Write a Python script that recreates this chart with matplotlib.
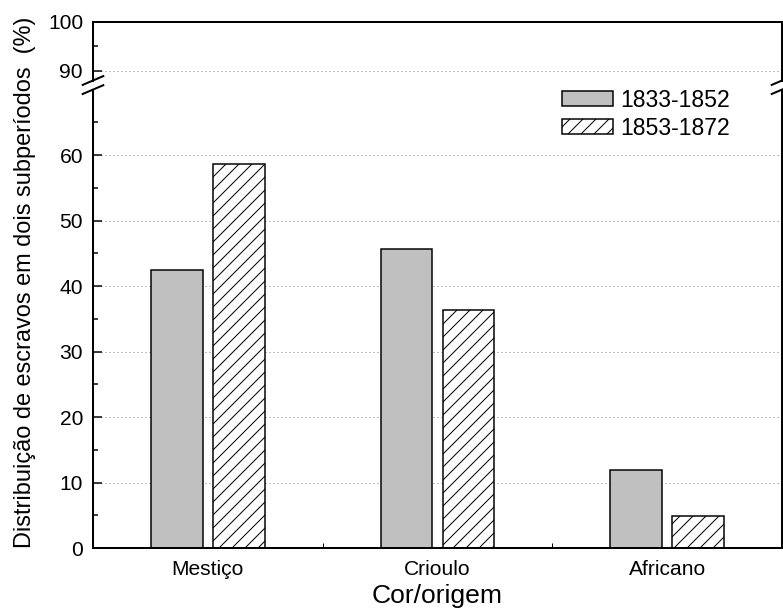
import matplotlib
matplotlib.use('Agg')
import matplotlib.pyplot as plt
from matplotlib.lines import Line2D
from matplotlib.ticker import FixedLocator

# data
categories = ['Mestiço', 'Crioulo', 'Africano']
period_1 = [42.4, 45.6, 11.9]   # 1833-1852
period_2 = [58.6, 36.4, 4.9]    # 1853-1872
labels = ['1833-1852', '1853-1872']

W, H = 783, 614
DPI = 78
PT = 72 / DPI            # px -> pt

plt.rcParams['font.family'] = ['Liberation Sans', 'DejaVu Sans']
plt.rcParams['hatch.linewidth'] = 1.0 * PT
plt.rcParams['axes.linewidth'] = 2.0 * PT

fig = plt.figure(figsize=(W / DPI, H / DPI), dpi=DPI)
fig.patch.set_facecolor('white')

x_left, x_right = 93, 782
lo_top, lo_bot = 89.6, 548
hi_top, hi_bot = 22, 80.5
ax_lo = fig.add_axes([x_left / W, 1 - lo_bot / H, (x_right - x_left) / W, (lo_bot - lo_top) / H])
ax_hi = fig.add_axes([x_left / W, 1 - hi_bot / H, (x_right - x_left) / W, (hi_bot - hi_top) / H])

x = list(range(1, len(categories) + 1))
width = 0.225
off = 0.135

for ax in (ax_lo, ax_hi):
    ax.bar([i - off for i in x], period_1, width, color='#c0c0c0', edgecolor='black',
           linewidth=1.5 * PT, label=labels[0])
    ax.bar([i + off for i in x], period_2, width, color='white', edgecolor='black',
           linewidth=1.5 * PT, hatch='//', label=labels[1])
    ax.set_xlim(0.5, 3.5)
    ax.set_axisbelow(True)
    ax.grid(axis='y', which='major', linestyle=(0, (1, 3)), color='#808080', linewidth=1.0 * PT)
    ax.tick_params(axis='y', which='major', direction='in', length=9 * PT, width=1.5 * PT,
                   labelsize=21 * PT, pad=10 * PT, right=False)
    ax.tick_params(axis='y', which='minor', direction='in', length=5 * PT, width=1.5 * PT, right=False)

# lower part
ax_lo.set_ylim(0, 70)
ax_lo.yaxis.set_major_locator(FixedLocator([0, 10, 20, 30, 40, 50, 60]))
ax_lo.yaxis.set_minor_locator(FixedLocator([5, 15, 25, 35, 45, 55, 65]))
ax_lo.spines['top'].set_visible(False)
ax_lo.set_xticks([1.5, 2.5])
ax_lo.set_xticklabels(['', ''])
ax_lo.tick_params(axis='x', which='major', direction='in', length=5 * PT, width=1.0 * PT, top=False)
ax_lo.set_xticks(x, minor=True)
ax_lo.set_xticklabels(categories, minor=True)
ax_lo.tick_params(axis='x', which='minor', length=0, labelsize=21 * PT, pad=12 * PT)
ax_lo.set_xlabel('Cor/origem', fontsize=26.5 * PT, labelpad=5 * PT)

# upper part
ax_hi.set_ylim(88, 100)
ax_hi.yaxis.set_major_locator(FixedLocator([90, 100]))
ax_hi.yaxis.set_minor_locator(FixedLocator([95]))
ax_hi.spines['bottom'].set_visible(False)
ax_hi.set_xticks([])

fig.text(25 / W, 1 - 282 / H, 'Distribuição de escravos em dois subperíodos  (%)',
         rotation=90, ha='center', va='center', fontsize=23.5 * PT)

# axis break marks
def break_mark(xc, yc):
    dx, dy = 10.3, 4.4
    fig.add_artist(Line2D([(xc - dx) / W, (xc + dx) / W], [1 - (yc + dy) / H, 1 - (yc - dy) / H],
                          transform=fig.transFigure, color='black', linewidth=2.0 * PT))

for xc in (x_left, x_right):
    break_mark(xc, hi_bot)
    break_mark(xc, lo_top)

ax_lo.legend(loc='upper left', bbox_to_anchor=(562 / W, 1 - 89 / H), bbox_transform=fig.transFigure,
             frameon=False, fontsize=23 * PT, handlelength=2.2, handleheight=0.62,
             handletextpad=0.33, labelspacing=0.2, borderpad=0, borderaxespad=0)

fig.savefig('out.png', dpi=DPI)
